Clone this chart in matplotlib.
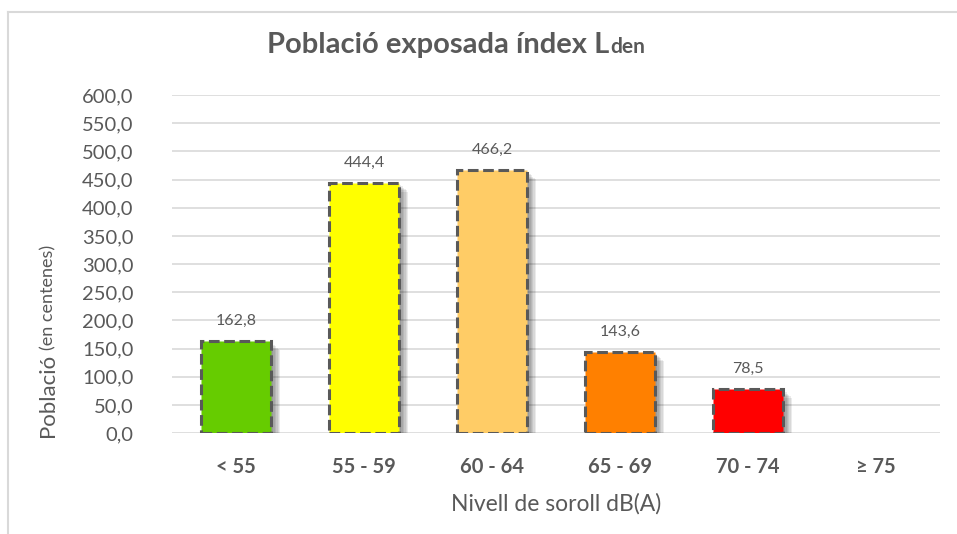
import matplotlib
matplotlib.use("Agg")
import matplotlib.pyplot as plt
import matplotlib.patheffects as pe
from matplotlib.lines import Line2D
from matplotlib.ticker import FuncFormatter, MultipleLocator

# chart data
categories = ["< 55", "55 - 59", "60 - 64", "65 - 69", "70 - 74", "\u2265 75"]
poblacio = [162.8, 444.4, 466.2, 143.6, 78.5, 0.0]
bar_colors = ["#66CC00", "#FFFF00", "#FFCC66", "#FF8000", "#FF0000", "#FFFFFF"]

GREY = "#595959"
plt.rcParams["font.family"] = ["Lato", "DejaVu Sans"]

fig = plt.figure(figsize=(9.57, 5.34), dpi=100)
ax = fig.add_axes([0.18, 0.189, 0.802, 0.633])

# soft shadow: several offset, translucent copies
shadow = [pe.SimplePatchShadow(offset=(o, -o), shadow_rgbFace="black", alpha=0.08)
          for o in (1.5, 2.5, 3.5, 4.5, 5.5, 6.5)]

x = range(len(categories))
for i, (v, c) in enumerate(zip(poblacio, bar_colors)):
    if v <= 0:
        continue
    b = ax.bar(i, v, width=0.55, color=c, edgecolor=GREY, linewidth=2.2,
               linestyle=(0, (3.5, 1.5)), zorder=3)
    b[0].set_path_effects(shadow + [pe.Normal()])
    ax.annotate(f"{v:.1f}".replace(".", ","), (i, v), xytext=(0, 9.5),
                textcoords="offset points", ha="center", va="bottom",
                fontsize=11.5, color=GREY)

ax.set_xlim(-0.5, len(categories) - 0.5)
ax.set_ylim(0, 600)
ax.yaxis.set_major_locator(MultipleLocator(50))
ax.yaxis.set_major_formatter(FuncFormatter(lambda v, p: f"{v:.1f}".replace(".", ",")))
ax.set_xticks(list(x))
ax.set_xticklabels(categories, fontsize=14.5, fontweight="bold", color=GREY)
ax.tick_params(axis="x", length=0, pad=17)
ax.tick_params(axis="y", length=0, pad=28, labelsize=14.5, labelcolor=GREY)
ax.grid(axis="y", color="#D9D9D9", linewidth=1.2, zorder=0)
for s in ax.spines.values():
    s.set_visible(False)

ax.set_xlabel("Nivell de soroll dB(A)", fontsize=16.5, color=GREY, labelpad=12)

# y label: "Població" + smaller "(en centenes)"
fig.canvas.draw()
r = fig.canvas.get_renderer()
t1 = fig.text(0.050, 0.182, "Població", rotation=90, fontsize=16, color=GREY,
              ha="center", va="bottom")
bb = t1.get_window_extent(r)
fig.text(0.050 + 0.001, (bb.y1 + 4) / fig.bbox.height, "(en centenes)", rotation=90,
         fontsize=13, color=GREY, ha="center", va="bottom")

# title with subscript-like "den"
tt = fig.text(0.279, 0.901, "Població exposada índex L", fontsize=21,
              fontweight="bold", color=GREY, ha="left", va="baseline")
tb = tt.get_window_extent(r)
fig.text((tb.x1 + 1) / fig.bbox.width, 0.901, "den", fontsize=15,
         fontweight="bold", color=GREY, ha="left", va="baseline")

# chart area border (top/left)
x0, y0 = 8 / 957, 1 - 12 / 534
fig.add_artist(Line2D([x0, x0], [0, y0], color="#D9D9D9", linewidth=1.5))
fig.add_artist(Line2D([x0, 1], [y0, y0], color="#D9D9D9", linewidth=1.5))

fig.savefig("out.png", dpi=100)
